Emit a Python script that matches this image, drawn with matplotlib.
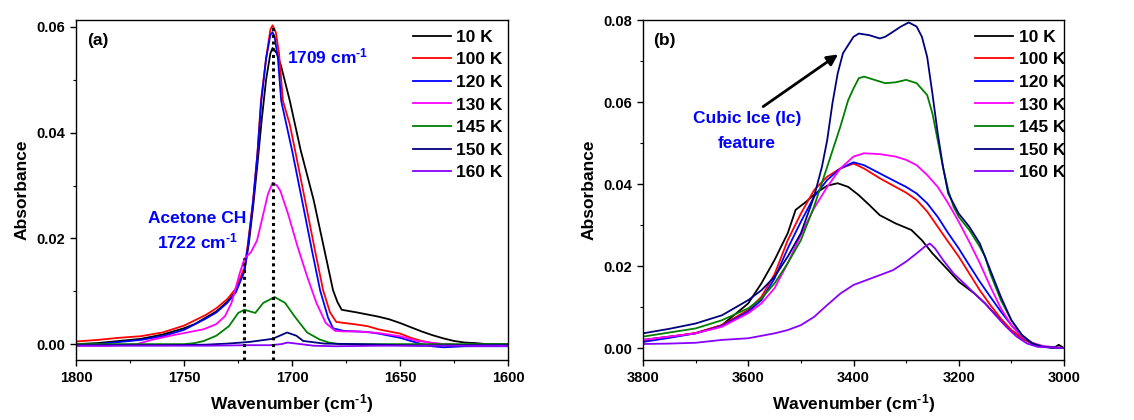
import matplotlib
matplotlib.use("Agg")
import matplotlib.pyplot as plt
from matplotlib.ticker import MultipleLocator, FormatStrFormatter

plt.rcParams['font.family'] = ['Liberation Sans', 'DejaVu Sans']
plt.rcParams['font.weight'] = 'bold'
plt.rcParams['mathtext.fontset'] = 'custom'
plt.rcParams['mathtext.rm'] = 'Liberation Sans:bold'
plt.rcParams['mathtext.bf'] = 'Liberation Sans:bold'
plt.rcParams['mathtext.it'] = 'Liberation Sans:bold'
plt.rcParams['mathtext.default'] = 'bf'

labels = ['10 K', '100 K', '120 K', '130 K', '145 K', '150 K', '160 K']
colors = ['black', '#ff0000', '#0000ff', '#ff00ff', '#008000', '#000080', '#8800ff']

# ---- panel (a): C=O region ----
a_wn_10 = [1800, 1790, 1780, 1770, 1760, 1750, 1745, 1740, 1735, 1730, 1726, 1722, 1720, 1718,
           1716, 1714, 1712, 1710, 1709, 1707, 1705, 1701, 1696, 1690, 1685, 1681, 1679, 1677,
           1670, 1665, 1660, 1655, 1650, 1645, 1640, 1635, 1630, 1625, 1620, 1615, 1610, 1600]
a_abs_10 = [0.0000, 0.0002, 0.0006, 0.0010, 0.0018, 0.0030, 0.0038, 0.0050, 0.0062, 0.0080, 0.0100,
            0.0140, 0.0190, 0.0260, 0.0340, 0.0425, 0.0500, 0.0550, 0.0560, 0.0550, 0.0525, 0.0460,
            0.0367, 0.0273, 0.0178, 0.0102, 0.0080, 0.0065, 0.0060, 0.0056, 0.0052, 0.0047, 0.0040,
            0.0032, 0.0024, 0.0017, 0.0011, 0.0006, 0.0003, 0.0002, 0.0000, 0.0000]

a_wn_100 = [1800, 1790, 1780, 1770, 1760, 1750, 1745, 1740, 1735, 1730, 1726, 1722, 1720.4, 1718,
            1716, 1714.4, 1712, 1710, 1709, 1707.5, 1706, 1704.2, 1701, 1698.6, 1694, 1689.4,
            1685.6, 1682.4, 1679.5, 1670, 1665, 1660, 1655, 1650, 1645, 1640, 1635, 1630, 1620, 1600]
a_abs_100 = [0.0005, 0.0008, 0.0012, 0.0015, 0.0022, 0.0035, 0.0045, 0.0055, 0.0068, 0.0085, 0.0105,
             0.0145, 0.0190, 0.0273, 0.0360, 0.0460, 0.0540, 0.0595, 0.0603, 0.0590, 0.0550, 0.0460,
             0.0415, 0.0367, 0.0273, 0.0178, 0.0102, 0.0060, 0.0042, 0.0037, 0.0034, 0.0028, 0.0024,
             0.0020, 0.0012, 0.0006, 0.0002, 0.0000, -0.0002, -0.0002]

a_wn_120 = [1800, 1790, 1780, 1770, 1760, 1750, 1740, 1735, 1730, 1726, 1722, 1720.4, 1718, 1716,
            1714.2, 1712, 1710, 1709, 1708, 1706.5, 1705, 1700, 1695.4, 1690.8, 1687, 1683.3, 1681,
            1676, 1670, 1665, 1660, 1655, 1650, 1645, 1640, 1635, 1630, 1620, 1610, 1600]
a_abs_120 = [-0.0002, 0.0000, 0.0004, 0.0008, 0.0015, 0.0027, 0.0048, 0.0060, 0.0078, 0.0098, 0.0138,
             0.0185, 0.0270, 0.0360, 0.0460, 0.0540, 0.0585, 0.0590, 0.0580, 0.0540, 0.0460, 0.0367,
             0.0273, 0.0178, 0.0102, 0.0050, 0.0030, 0.0025, 0.0024, 0.0023, 0.0020, 0.0016, 0.0012,
             0.0006, 0.0000, -0.0004, -0.0006, -0.0004, -0.0004, -0.0004]

a_wn_130 = [1800, 1785, 1772, 1765, 1755, 1741, 1735, 1731, 1728, 1726.3, 1724.2, 1722, 1719,
            1716.2, 1713.3, 1711.2, 1709, 1707, 1705.4, 1701.8, 1697.4, 1693, 1688.7, 1684.4, 1680,
            1676, 1670, 1660, 1650, 1642, 1630, 1615, 1600]
a_abs_130 = [-0.0003, -0.0003, 0.0000, 0.0008, 0.0017, 0.0028, 0.0038, 0.0053, 0.0078, 0.0103, 0.0134,
             0.0162, 0.0174, 0.0196, 0.0246, 0.0283, 0.0305, 0.0300, 0.0290, 0.0246, 0.0184, 0.0128,
             0.0078, 0.0040, 0.0025, 0.0024, 0.0024, 0.0021, 0.0015, 0.0006, 0.0000, -0.0003, -0.0003]

a_wn_145 = [1800, 1770, 1750, 1745, 1740.8, 1735, 1729.2, 1724.9, 1722, 1719.5, 1717, 1713.3, 1708,
            1703.2, 1698.9, 1693, 1687.3, 1683, 1678, 1660, 1640, 1620, 1600]
a_abs_145 = [0.0000, 0.0000, 0.0000, 0.0002, 0.0006, 0.0016, 0.0034, 0.0059, 0.0065, 0.0062, 0.0059,
             0.0078, 0.0089, 0.0078, 0.0053, 0.0022, 0.0009, 0.0003, 0.0000, 0.0000, 0.0000, 0.0000,
             0.0000]

a_wn_150 = [1800, 1760, 1740, 1730, 1720, 1709, 1702.3, 1698, 1694.8, 1685, 1670, 1650, 1640, 1620, 1600]
a_abs_150 = [-0.0002, -0.0002, -0.0001, 0.0001, 0.0004, 0.0010, 0.0022, 0.0016, 0.0006, 0.0001,
             0.0000, -0.0002, -0.0003, -0.0002, -0.0002]

a_wn_160 = [1800, 1760, 1740, 1720, 1710, 1705, 1702, 1698, 1690, 1680, 1660, 1640, 1620, 1600]
a_abs_160 = [-0.0003, -0.0003, -0.0003, -0.0002, -0.0002, 0.0000, 0.0003, 0.0001, -0.0003, -0.0004,
             -0.0003, -0.0003, -0.0003, -0.0003]

# ---- panel (b): O-H stretch ----
b_wn_10 = [3800, 3750, 3700, 3650, 3600, 3575, 3550, 3525, 3510, 3490, 3470, 3450, 3430, 3410, 3390,
           3370, 3350, 3320, 3290, 3270, 3250, 3220, 3200, 3170, 3150, 3120, 3100, 3080, 3050, 3020,
           3010, 3000]
b_abs_10 = [0.0020, 0.0028, 0.0036, 0.0056, 0.0109, 0.0158, 0.0215, 0.0280, 0.0337, 0.0357, 0.0379,
            0.0396, 0.0402, 0.0393, 0.0373, 0.0349, 0.0324, 0.0304, 0.0288, 0.0263, 0.0231, 0.0190,
            0.0162, 0.0133, 0.0109, 0.0068, 0.0044, 0.0024, 0.0007, 0.0000, 0.0008, 0.0000]

b_wn = [3800, 3750, 3700, 3650, 3600, 3575, 3550, 3525, 3500, 3475, 3450, 3425, 3400, 3380, 3350,
        3320, 3300, 3280, 3260, 3240, 3220, 3200, 3180, 3160, 3140, 3120, 3100, 3080, 3060, 3040, 3000]
b_abs_100 = [0.0018, 0.0027, 0.0037, 0.0056, 0.0093, 0.0125, 0.0180, 0.0263, 0.0328, 0.0385, 0.0418,
             0.0438, 0.0450, 0.0438, 0.0414, 0.0393, 0.0379, 0.0361, 0.0333, 0.0296, 0.0259, 0.0223,
             0.0182, 0.0141, 0.0105, 0.0072, 0.0044, 0.0024, 0.0010, 0.0003, 0.0000]
b_abs_120 = [0.0015, 0.0025, 0.0036, 0.0054, 0.0089, 0.0117, 0.0170, 0.0243, 0.0308, 0.0369, 0.0410,
             0.0438, 0.0453, 0.0446, 0.0426, 0.0406, 0.0393, 0.0377, 0.0353, 0.0320, 0.0280, 0.0243,
             0.0202, 0.0162, 0.0125, 0.0089, 0.0056, 0.0028, 0.0011, 0.0003, 0.0000]
b_abs_130 = [0.0020, 0.0028, 0.0036, 0.0052, 0.0085, 0.0109, 0.0146, 0.0207, 0.0276, 0.0341, 0.0393,
             0.0438, 0.0467, 0.0475, 0.0473, 0.0467, 0.0459, 0.0446, 0.0422, 0.0393, 0.0353, 0.0308,
             0.0259, 0.0207, 0.0150, 0.0097, 0.0056, 0.0028, 0.0013, 0.0005, 0.0000]

b_wn_145 = [3800, 3750, 3700, 3650, 3600, 3575, 3550, 3525, 3500, 3475, 3450, 3425, 3410, 3400, 3390,
            3380, 3360, 3340, 3320, 3300, 3280, 3260, 3250, 3240, 3230, 3220, 3210, 3200, 3180, 3160,
            3150, 3140, 3120, 3100, 3080, 3060, 3040, 3000]
b_abs_145 = [0.0028, 0.0038, 0.0048, 0.0068, 0.0097, 0.0121, 0.0158, 0.0207, 0.0263, 0.0345, 0.0442,
             0.0540, 0.0605, 0.0633, 0.0658, 0.0662, 0.0654, 0.0646, 0.0648, 0.0654, 0.0646, 0.0617,
             0.0572, 0.0507, 0.0442, 0.0385, 0.0345, 0.0320, 0.0288, 0.0247, 0.0223, 0.0182, 0.0117,
             0.0068, 0.0032, 0.0011, 0.0003, 0.0000]

b_wn_150 = [3800, 3750, 3700, 3650, 3600, 3575, 3550, 3525, 3500, 3475, 3460, 3450, 3440, 3430, 3420,
            3400, 3390, 3370, 3350, 3340, 3330, 3310, 3295, 3280, 3270, 3260, 3250, 3240, 3230, 3220,
            3200, 3180, 3160, 3140, 3120, 3100, 3080, 3060, 3040, 3000]
b_abs_150 = [0.0036, 0.0047, 0.0060, 0.0080, 0.0117, 0.0141, 0.0174, 0.0223, 0.0280, 0.0369, 0.0442,
             0.0507, 0.0597, 0.0670, 0.0719, 0.0759, 0.0767, 0.0763, 0.0755, 0.0759, 0.0767, 0.0784,
             0.0794, 0.0784, 0.0759, 0.0710, 0.0620, 0.0524, 0.0442, 0.0377, 0.0328, 0.0296, 0.0255,
             0.0190, 0.0125, 0.0068, 0.0032, 0.0011, 0.0003, 0.0000]

b_wn_160 = [3800, 3750, 3700, 3650, 3600, 3550, 3525, 3500, 3475, 3450, 3425, 3400, 3375, 3350, 3325,
            3300, 3280, 3265, 3255, 3245, 3230, 3210, 3190, 3170, 3150, 3130, 3110, 3090, 3070, 3050,
            3000]
b_abs_160 = [0.0010, 0.0011, 0.0013, 0.0020, 0.0024, 0.0036, 0.0044, 0.0056, 0.0076, 0.0105, 0.0133,
             0.0154, 0.0166, 0.0178, 0.0190, 0.0211, 0.0231, 0.0247, 0.0255, 0.0243, 0.0215, 0.0182,
             0.0158, 0.0133, 0.0109, 0.0080, 0.0052, 0.0028, 0.0011, 0.0003, 0.0000]

a_series = [(a_wn_10, a_abs_10), (a_wn_100, a_abs_100), (a_wn_120, a_abs_120), (a_wn_130, a_abs_130),
            (a_wn_145, a_abs_145), (a_wn_150, a_abs_150), (a_wn_160, a_abs_160)]
b_series = [(b_wn_10, b_abs_10), (b_wn, b_abs_100), (b_wn, b_abs_120), (b_wn, b_abs_130),
            (b_wn_145, b_abs_145), (b_wn_150, b_abs_150), (b_wn_160, b_abs_160)]

fig = plt.figure(figsize=(11.34, 4.2), dpi=100)
ax1 = fig.add_axes([76 / 1134, 60 / 420, 432 / 1134, 340 / 420])
ax2 = fig.add_axes([643 / 1134, 60 / 420, 421 / 1134, 340 / 420])

inv = r'cm$^{\text{-1}}$'


def style(ax, xlim, ylim, xmaj, xmin, ymaj, ymin):
    ax.set_xlim(*xlim)
    ax.set_ylim(*ylim)
    ax.xaxis.set_major_locator(MultipleLocator(xmaj))
    ax.xaxis.set_minor_locator(MultipleLocator(xmin))
    ax.yaxis.set_major_locator(MultipleLocator(ymaj))
    ax.yaxis.set_minor_locator(MultipleLocator(ymin))
    ax.yaxis.set_major_formatter(FormatStrFormatter('%.2f'))
    ax.tick_params(which='major', direction='out', length=4.5, width=1, labelsize=10.5)
    ax.tick_params(which='minor', direction='out', length=2.5, width=0.8)
    for lab in ax.get_xticklabels() + ax.get_yticklabels():
        lab.set_fontweight('bold')
    for s in ax.spines.values():
        s.set_linewidth(1)
    ax.set_xlabel('Wavenumber (' + inv + ')', fontsize=12.5, fontweight='bold', labelpad=5)
    ax.set_ylabel('Absorbance', fontsize=12.5, fontweight='bold', labelpad=5)


for (x, y), c, lab in zip(a_series, colors, labels):
    ax1.plot(x, y, color=c, lw=1.3, label=lab)
for (x, y), c, lab in zip(b_series, colors, labels):
    ax2.plot(x, y, color=c, lw=1.3, label=lab)

style(ax1, (1800, 1600), (-0.003, 0.0613), 50, 25, 0.02, 0.01)
style(ax2, (3800, 3000), (-0.0029, 0.08), 200, 100, 0.02, 0.01)

# dotted markers for the two carbonyl bands
ax1.plot([1722, 1722], [-0.003, 0.0163], color='black', lw=2.2, ls=(0, (1, 1.2)))
ax1.plot([1709, 1709], [-0.003, 0.0603], color='black', lw=2.2, ls=(0, (1, 1.2)))

ax1.text(1795, 0.0575, '(a)', fontsize=12.5, fontweight='bold', va='center')
ax1.text(1702.3, 0.0545, '1709 ' + inv, fontsize=12.5, fontweight='bold', color='#0000ff', va='center')
ax1.text(1744, 0.0238, 'Acetone CH', fontsize=12.5, fontweight='bold', color='#0000ff',
         ha='center', va='center')
ax1.text(1744, 0.0195, '1722 ' + inv, fontsize=12.5, fontweight='bold', color='#0000ff',
         ha='center', va='center')

ax2.text(3781, 0.0751, '(b)', fontsize=12.5, fontweight='bold', va='center')
ax2.text(3602, 0.0559, 'Cubic Ice (Ic)', fontsize=12.5, fontweight='bold', color='#0000ff',
         ha='center', va='center')
ax2.text(3602, 0.0500, 'feature', fontsize=12.5, fontweight='bold', color='#0000ff',
         ha='center', va='center')
ax2.annotate('', xy=(3425, 0.072), xytext=(3576, 0.0585),
             arrowprops=dict(arrowstyle='-|>', color='black', lw=2, mutation_scale=16))

for ax, x0 in [(ax1, 0.780), (ax2, 0.789)]:
    ax.legend(loc='upper left', bbox_to_anchor=(x0, 0.972), frameon=False,
              handlelength=2.2, handletextpad=0.3, labelspacing=0.43, borderpad=0,
              borderaxespad=0, prop={'weight': 'bold', 'size': 12.5})

fig.savefig('out.png', dpi=100)
